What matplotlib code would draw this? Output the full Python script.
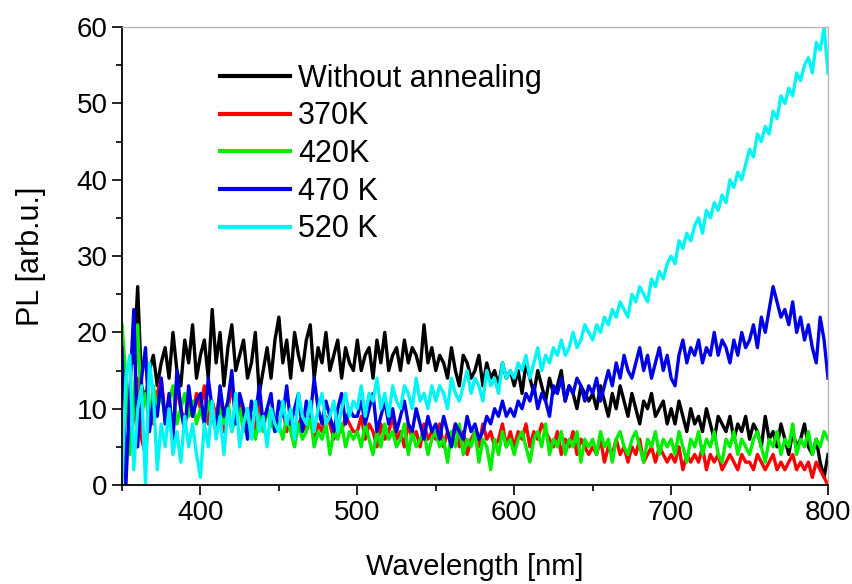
import numpy as np
import matplotlib
matplotlib.use("Agg")
import matplotlib.pyplot as plt
from matplotlib.ticker import MultipleLocator

plt.rcParams['font.family'] = ['Liberation Sans', 'DejaVu Sans']

# wavelength grid of the read-off values (nm), 2.5 nm step
wavelength = np.linspace(350, 800, 181)

nan = np.nan
without_annealing = [
    nan, nan, nan, 16, 26, 13, 11, 15, 17, 13, 16, 18, 14, 20, 15, 13, 19, 16, 21, 14,
    17, 19, 14, 23, 16, 20, 13, 18, 21, 15, 17, 19, 14, 16, 20, 12, 15, 18, 14, 19,
    22, 16, 19, 14, 20, 17, 15, 19, 21, 14, 18, 16, 20, 15, 17, 19, 14, 18, 16, 15,
    19, 15, 17, 18, 14, 19, 16, 20, 15, 17, 18, 15, 19, 16, 18, 17, 15, 21, 16, 18,
    15, 17, 16, 14, 18, 15, 13, 17, 16, 14, 15, 17, 13, 16, 14, 15, 13, 16, 14, 15,
    13, 15, 12, 16, 14, 12, 15, 13, 11, 14, 12, 13, 15, 11, 13, 12, 10, 13, 12, 11,
    12, 10, 13, 11, 9, 12, 10, 13, 11, 9, 12, 10, 8, 11, 10, 12, 9, 10, 11, 8,
    10, 8, 11, 9, 7, 10, 8, 9, 7, 10, 8, 6, 9, 8, 7, 9, 6, 8, 7, 9,
    6, 8, 7, 5, 9, 6, 7, 5, 8, 6, 4, 7, 5, 6, 8, 5, 4, 6, 3, 1,
    4,
]
k370 = [
    3, 12, 5, 9, 14, 6, 4, 10, 8, 12, 14, 9, 11, 7, 13, 10, 8, 11, 9, 12,
    10, 13, 8, 11, 9, 12, 7, 10, 13, 9, 11, 8, 10, 9, 7, 11, 8, 10, 9, 8,
    8, 10, 7, 9, 6, 8, 9, 7, 10, 6, 8, 7, 9, 8, 6, 8, 7, 9, 8, 7,
    7, 9, 6, 8, 7, 5, 8, 6, 7, 9, 6, 7, 5, 8, 6, 7, 5, 8, 6, 7,
    6, 8, 5, 7, 6, 8, 5, 7, 4, 6, 7, 5, 8, 6, 7, 5, 6, 8, 5, 7,
    5, 7, 6, 8, 5, 7, 6, 8, 7, 6, 5, 7, 4, 6, 5, 7, 4, 6, 5, 4,
    5, 4, 6, 3, 5, 4, 6, 4, 5, 3, 5, 4, 6, 3, 4, 5, 3, 5, 4, 3,
    4, 3, 5, 2, 4, 3, 4, 3, 5, 2, 4, 3, 4, 2, 3, 4, 3, 2, 4, 3,
    3, 2, 4, 3, 2, 3, 4, 2, 3, 2, 3, 4, 2, 3, 2, 3, 1, 3, 2, 1,
    0,
]
k420 = [
    21, 14, 4, 10, 21, 9, 12, 8, 13, 10, 12, 9, 11, 13, 8, 10, 12, 9, 11, 8,
    10, 8, 11, 9, 7, 10, 8, 11, 7, 9, 10, 7, 9, 8, 6, 9, 7, 10, 8, 7,
    8, 6, 9, 7, 5, 8, 6, 7, 9, 5, 7, 6, 8, 4, 7, 6, 8, 5, 7, 6,
    7, 5, 8, 6, 4, 7, 5, 8, 6, 7, 5, 6, 8, 4, 7, 5, 6, 7, 4, 6,
    7, 5, 6, 3, 7, 5, 8, 4, 6, 5, 7, 3, 6, 5, 2, 6, 4, 7, 5, 6,
    4, 6, 7, 5, 3, 6, 7, 5, 8, 4, 6, 5, 7, 4, 6, 5, 7, 3, 6, 5,
    6, 4, 7, 5, 6, 3, 6, 7, 5, 4, 6, 7, 5, 3, 6, 5, 7, 4, 6, 5,
    6, 4, 7, 5, 3, 6, 5, 7, 4, 6, 5, 7, 4, 3, 6, 5, 7, 4, 6, 5,
    4, 6, 7, 5, 3, 6, 5, 7, 4, 6, 5, 8, 4, 6, 5, 7, 4, 6, 5, 7,
    6,
]
k470 = [
    18, 0, 12, 23, 5, 14, 18, 7, 11, 9, 14, 8, 12, 6, 15, 10, 7, 13, 9, 11,
    12, 8, 14, 10, 7, 13, 9, 11, 15, 8, 12, 10, 6, 11, 9, 13, 8, 10, 12, 7,
    11, 9, 13, 8, 10, 12, 7, 11, 9, 14, 10, 8, 11, 9, 7, 10, 12, 8, 10, 9,
    9, 11, 8, 10, 12, 7, 9, 11, 8, 10, 7, 9, 11, 8, 7, 10, 8, 6, 9, 7,
    8, 6, 9, 7, 5, 8, 7, 6, 9, 7, 8, 6, 7, 9, 8, 10, 9, 11, 9, 10,
    9, 11, 10, 12, 11, 13, 10, 12, 11, 9, 13, 12, 14, 11, 13, 12, 14, 13, 11, 13,
    12, 14, 11, 13, 15, 13, 16, 14, 17, 15, 14, 16, 18, 15, 17, 14, 16, 18, 15, 17,
    14, 13, 17, 19, 16, 18, 17, 19, 16, 18, 17, 20, 17, 19, 18, 16, 19, 17, 20, 18,
    19, 21, 18, 22, 20, 23, 26, 24, 22, 23, 21, 24, 20, 22, 19, 21, 18, 16, 22, 19,
    14,
]
k520 = [
    0, 14, 17, 2, 10, 13, 0, 16, 12, 2, 8, 5, 10, 4, 7, 3, 9, 5, 8, 4,
    1, 8, 5, 11, 6, 9, 4, 10, 7, 12, 5, 8, 10, 6, 11, 7, 9, 5, 10, 8,
    7, 11, 8, 10, 6, 12, 9, 8, 11, 7, 10, 12, 8, 9, 11, 7, 10, 12, 9, 11,
    10, 13, 9, 12, 11, 14, 10, 12, 9, 13, 11, 10, 13, 12, 10, 14, 11, 12, 10, 13,
    11, 13, 12, 10, 14, 12, 11, 13, 15, 12, 14, 13, 11, 15, 13, 14, 12, 16, 14, 15,
    14, 16, 15, 17, 14, 16, 18, 15, 17, 16, 18, 17, 19, 17, 18, 20, 18, 19, 21, 20,
    19, 21, 20, 22, 21, 23, 22, 24, 23, 22, 25, 24, 26, 25, 24, 27, 26, 28, 27, 29,
    30, 29, 32, 31, 33, 32, 34, 35, 33, 36, 35, 37, 36, 38, 37, 40, 39, 41, 40, 42,
    44, 43, 46, 45, 47, 46, 49, 48, 51, 50, 52, 51, 54, 53, 55, 56, 54, 58, 57, 60,
    54,
]

labels = ['Without annealing', '370K', '420K', '470 K', '520 K']
colors = ['#000000', '#ff0000', '#00ee00', '#0000e6', '#00f5f5']
series = [without_annealing, k370, k420, k470, k520]

fig = plt.figure(figsize=(8.53, 5.84), dpi=100)
ax = fig.add_axes([0.143, 0.1695, 0.8277, 0.784])

for y, c, lab in zip(series, colors, labels):
    ax.plot(wavelength, y, color=c, lw=2.4, label=lab)

ax.set_xlim(350, 800)
ax.set_ylim(0, 60)
ax.xaxis.set_major_locator(MultipleLocator(100))
ax.xaxis.set_minor_locator(MultipleLocator(50))
ax.yaxis.set_major_locator(MultipleLocator(10))
ax.yaxis.set_minor_locator(MultipleLocator(5))
ax.tick_params(which='major', direction='out', length=7, width=1.2, labelsize=20)
ax.tick_params(which='minor', direction='out', length=4, width=1.2)

for s in ['top', 'right']:
    ax.spines[s].set_color('#b8b8b8')
    ax.spines[s].set_linewidth(1)
for s in ['left', 'bottom']:
    ax.spines[s].set_linewidth(1.3)

ax.set_xlabel('Wavelength [nm]', fontsize=21, labelpad=20)
ax.set_ylabel('PL [arb.u.]', fontsize=22, labelpad=22)

leg = ax.legend(loc='upper left', bbox_to_anchor=(0.139, 0.92), frameon=False,
                fontsize=22, handlelength=2.3, handletextpad=0.25,
                labelspacing=0.25, borderpad=0, borderaxespad=0)
for h in leg.get_lines():
    h.set_linewidth(3)

fig.savefig('out.png', dpi=100)
